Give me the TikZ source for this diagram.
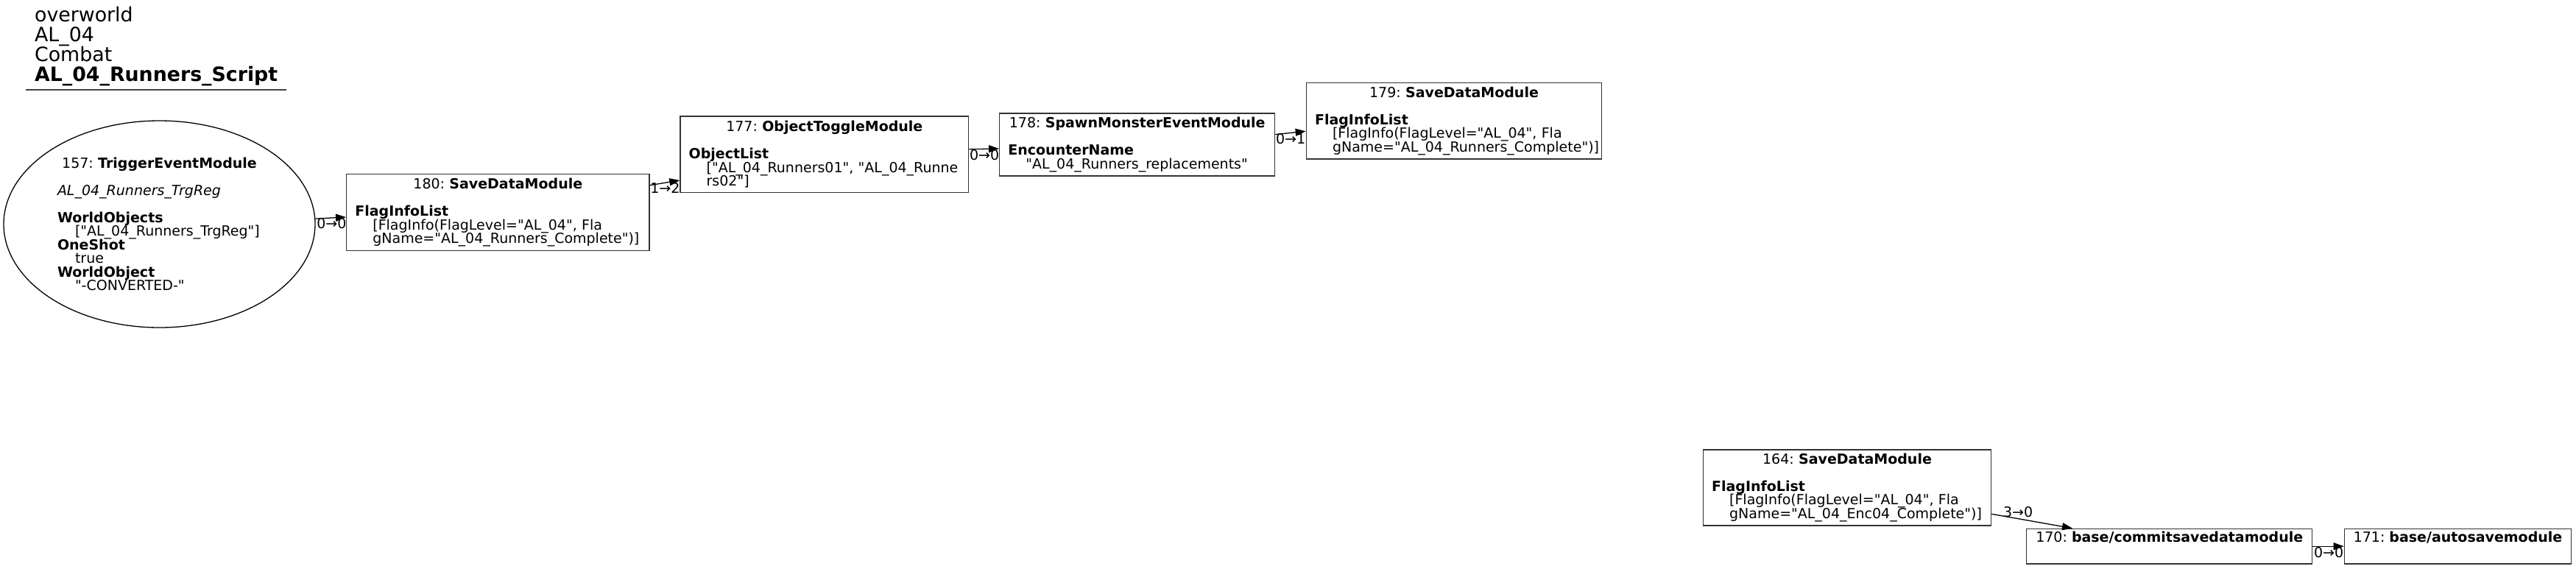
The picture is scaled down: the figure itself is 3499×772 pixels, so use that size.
\documentclass[tikz,border=0pt]{standalone}
\usepackage{fontspec}
\setmainfont{DejaVu Sans}[Ligatures=TeXOff]
\usetikzlibrary{arrows.meta,shapes.geometric}
\newcommand\modfont{\fontsize{9.5pt}{9.25pt}\selectfont\frenchspacing\lineskiplimit=-20pt\hyphenpenalty=10000\exhyphenpenalty=10000}
\newcommand\headfont{\fontsize{13.4pt}{13.5pt}\selectfont\frenchspacing\lineskiplimit=-20pt}
\newcommand\ind{\hspace*{12pt}}
\newcommand\ttl[1]{\leavevmode\hskip 0pt plus 1fill minus 30pt\relax#1\hskip 0pt plus 1fill minus 30pt\relax\null}
\tikzset{
  mod/.style={draw=black!80, line width=0.65pt, rectangle, inner sep=0pt, align=left, font=\modfont},
  trig/.style={draw=black, line width=0.65pt, ellipse, inner sep=0pt, align=left, font=\modfont},
  flat/.style={draw=black!80, line width=0.65pt, rectangle, inner sep=0pt, font=\modfont, text height=9.2pt, text depth=14.65pt},
  conn/.style={draw=black, line width=0.65pt, -{Triangle[length=7pt,width=5pt]}},
  lbl/.style={font=\modfont, inner sep=0pt, anchor=base west},
}
\begin{document}
\begin{tikzpicture}[x=0.5pt,y=-0.5pt]
\path[use as bounding box] (0,0) rectangle (3499,772);

\node[font=\headfont, align=left, inner sep=0pt, anchor=base west] (head) at (46.7,110)
  {overworld\\AL\_04\\Combat\\\textbf{AL\_04\_Runners\_Script}};
\draw[black!75, line width=1pt] (35,122) -- (389,122);

\node[trig, text width=138.5pt, minimum width=211.5pt, minimum height=140.5pt] (n157) at (216.5,304.5)
  {\ttl{157:~\textbf{TriggerEventModule}}\\[9.25pt]
   \textit{AL\_04\_Runners\_TrgReg}\\[9.25pt]
   \textbf{WorldObjects}\\
   \ind["AL\_04\_Runners\_TrgReg"]\\
   \textbf{OneShot}\\
   \ind true\\
   \textbf{WorldObject}\\
   \ind"-CONVERTED-"};

\node[mod, text width=193.95pt, minimum width=205.65pt, minimum height=52pt] (n180) at (676.3,288.7)
  {\ttl{180:~\textbf{SaveDataModule}}\\[9.25pt]
   \textbf{FlagInfoList}\\
   \ind[FlagInfo(FlagLevel="AL\_04", Fla\\
   \ind gName="AL\_04\_Runners\_Complete")]};

\node[mod, text width=184.15pt, minimum width=195.85pt, minimum height=51.85pt] (n177) at (1119.8,209.8)
  {\ttl{177:~\textbf{ObjectToggleModule}}\\[9.25pt]
   \textbf{ObjectList}\\
   \ind["AL\_04\_Runners01", "AL\_04\_Runne\\
   \ind rs02"]};

\node[mod, text width=175.3pt, minimum width=187pt, minimum height=42.5pt] (n178) at (1544.7,196.5)
  {\ttl{178:~\textbf{SpawnMonsterEventModule}}\\[9.25pt]
   \textbf{EncounterName}\\
   \ind"AL\_04\_Runners\_replacements"};

\node[mod, text width=189pt, minimum width=200.7pt, minimum height=51.85pt] (n179) at (1975,164.2)
  {\ttl{179:~\textbf{SaveDataModule}}\\[9.25pt]
   \textbf{FlagInfoList}\\
   \ind[FlagInfo(FlagLevel="AL\_04", Fla\\
   \ind gName="AL\_04\_Runners\_Complete")]};

\node[mod, text width=183.9pt, minimum width=195.6pt, minimum height=51.5pt] (n164) at (2509,662.5)
  {\ttl{164:~\textbf{SaveDataModule}}\\[9.25pt]
   \textbf{FlagInfoList}\\
   \ind[FlagInfo(FlagLevel="AL\_04", Fla\\
   \ind gName="AL\_04\_Enc04\_Complete")]};

\node[flat, minimum width=194pt] (n170) at (2946.7,742.2) {170:~\textbf{base/commitsavedatamodule}};
\node[flat, minimum width=154.2pt] (n171) at (3338.5,742.2) {171:~\textbf{base/autosavemodule}};

\draw[conn] (n157.2.3) -- ([yshift=-3.15pt]n180.west);
\draw[conn] ([yshift=18.5pt]n180.east) -- ([yshift=-17.6pt]n177.west);
\draw[conn] ([yshift=3.55pt]n177.east) -- ([yshift=-2.75pt]n178.west);
\draw[conn] ([yshift=6.9pt]n178.east) -- ([yshift=-7.05pt]n179.west);
\draw[conn] ([yshift=-17.9pt]n164.east) -- ([xshift=-65.85pt]n170.north);
\draw[conn] (n170.east) -- (n171.west);

\node[lbl] (l1) at (430,310.7) {0→0};
\node[lbl] (l2) at (883,262) {1→2};
\node[lbl] (l3) at (1316.7,217) {0→0};
\node[lbl] (l4) at (1732.7,195) {0→1};
\node[lbl] (l5) at (2720.7,702) {3→0};
\node[lbl] (l6) at (3142.7,757.3) {0→0};
\end{tikzpicture}
\end{document}
